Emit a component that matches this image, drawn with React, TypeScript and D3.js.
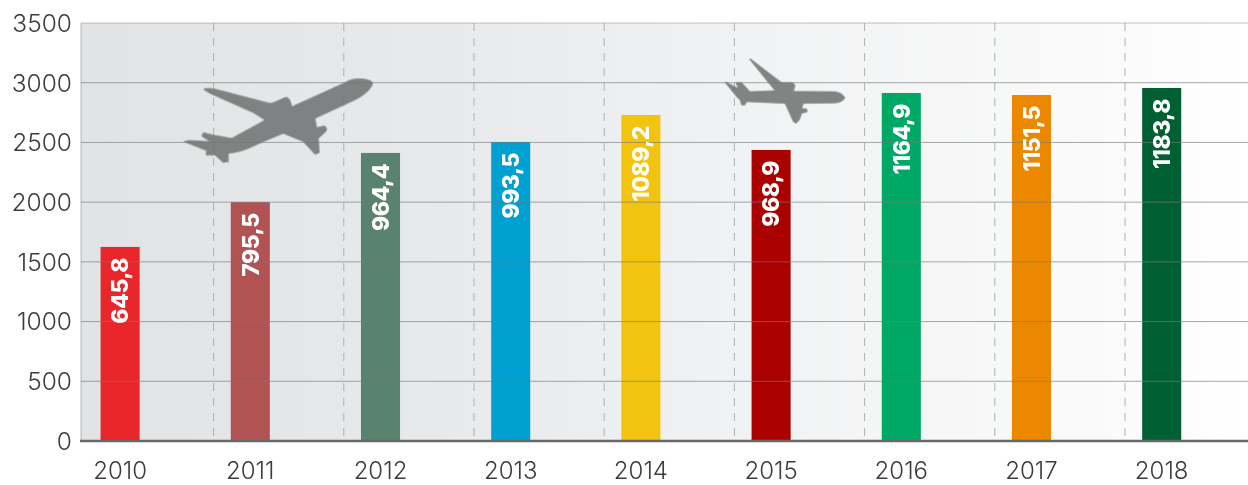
import React from "react";
import * as d3 from "d3";

const years = ["2010", "2011", "2012", "2013", "2014", "2015", "2016", "2017", "2018"];
const heights = [1625, 2000, 2412, 2504, 2730, 2437, 2914, 2897, 2956];
const labels = ["645,8", "795,5", "964,4", "993,5", "1089,2", "968,9", "1164,9", "1151,5", "1183,8"];
const colors = ["#e92629", "#b25353", "#5a8270", "#00a0d0", "#f2c410", "#ab0000", "#00a865", "#ec8800", "#005f33"];
const yTicks = [0, 500, 1000, 1500, 2000, 2500, 3000, 3500];

const W = 1248, H = 485;
const FONT = "Inter, 'Open Sans', sans-serif";
const left = 81, right = 1248, top = 23, bottom = 441;

const y = d3.scaleLinear().domain([0, 3500]).range([bottom, top]);
const x = d3.scaleBand<string>().domain(years).range([55, 55 + 130.2 * 9]).paddingInner(0.7).paddingOuter(0.35);
const gridOffset = 93.5;

const planeA =
  "M608 70 C606 60 585 55 555 57 C540 58 532 64 525 68 L366 140 L362 128 C360 116 352 110 344 113 L310 128 L300 130 L135 87 C118 84 103 85 101 88 L120 100 L250 158 L285 180 L185 235 L130 225 L100 218 L95 228 L120 245 L55 241 L42 245 L110 272 L108 285 L135 285 L160 308 L175 305 L175 280 C200 277 218 273 235 265 L280 245 L340 220 L400 245 L435 283 L448 278 L445 235 L468 214 C472 205 468 197 460 198 L440 203 L435 175 L550 122 C580 108 604 88 608 70 Z";
const planeB =
  "M405 143 C400 134 390 127 375 125 L250 124 L255 108 C254 101 250 98 243 98 L215 98 L122 27 L118 27 L195 122 L120 125 L95 98 L78 98 L85 115 L50 97 L45 97 L80 140 L90 150 L95 165 L105 165 L110 155 L225 160 L250 215 L258 220 L268 210 L275 190 L292 185 L290 177 L275 175 L280 160 L375 159 C390 158 400 152 405 143 Z";

export default function App() {
  return (
    <svg width={W} height={H} viewBox={`0 0 ${W} ${H}`} style={{ position: "absolute", left: 0, top: 0, display: "block", fontFamily: FONT }}>
      <defs>
        <linearGradient id="bg" x1="0" x2="1" y1="0" y2="0">
          <stop offset="0" stopColor="#e1e3e5" />
          <stop offset="0.3" stopColor="#e8e9eb" />
          <stop offset="0.6" stopColor="#f2f3f4" />
          <stop offset="0.9" stopColor="#fbfbfb" />
          <stop offset="1" stopColor="#ffffff" />
        </linearGradient>
      </defs>
      <rect width={W} height={H} fill="#fff" />
      <rect x={left} y={top} width={right - left} height={bottom - top} fill="url(#bg)" />
      <line x1={left} x2={left} y1={top} y2={bottom} stroke="#b5b7b9" strokeWidth={1} />
      {years.slice(0, -1).map((d) => {
        const px = (x(d) as number) + x.bandwidth() / 2 + gridOffset;
        return <line key={d} x1={px} x2={px} y1={top} y2={bottom} stroke="#aeb0b2" strokeWidth={1} strokeDasharray="8 7" />;
      })}
      {years.map((d, i) => (
        <rect key={d} x={x(d)} y={y(heights[i])} width={x.bandwidth()} height={bottom - y(heights[i])} fill={colors[i]} />
      ))}
      {yTicks.filter((t) => t > 0).map((t) => (
        <line key={t} x1={left} x2={right} y1={y(t)} y2={y(t)} stroke="#77797b" strokeOpacity={t === 3500 ? 0.45 : 0.65} strokeWidth={1} />
      ))}
      <line x1={left - 1} x2={right} y1={bottom} y2={bottom} stroke="#666869" strokeWidth={2.5} />
      <g fill="#727474" stroke="#727474" strokeWidth={2} strokeLinejoin="round" opacity={0.88}>
        <path d={planeA} transform="translate(170 60) scale(0.3333)" />
        <path d={planeB} transform="translate(710 50) scale(0.3333)" />
      </g>
      {yTicks.map((t) => (
        <text key={t} x={72} y={y(t)} dy="0.36em" textAnchor="end" fontSize={24.5} fontWeight={300} fill="#3c3c3c">{t}</text>
      ))}
      {years.map((d) => (
        <text key={d} x={(x(d) as number) + x.bandwidth() / 2} y={479} textAnchor="middle" fontSize={24} fontWeight={300} fill="#3c3c3c">{d}</text>
      ))}
      {years.map((d, i) => {
        const cx = (x(d) as number) + x.bandwidth() / 2;
        const ty = y(heights[i]) + 11;
        return (
          <text key={d} transform={`translate(${cx} ${ty}) rotate(-90)`} textAnchor="end" dy="0.36em" fontSize={23} letterSpacing={-0.5} fontWeight={800} fill="#fff">{labels[i]}</text>
        );
      })}
    </svg>
  );
}
